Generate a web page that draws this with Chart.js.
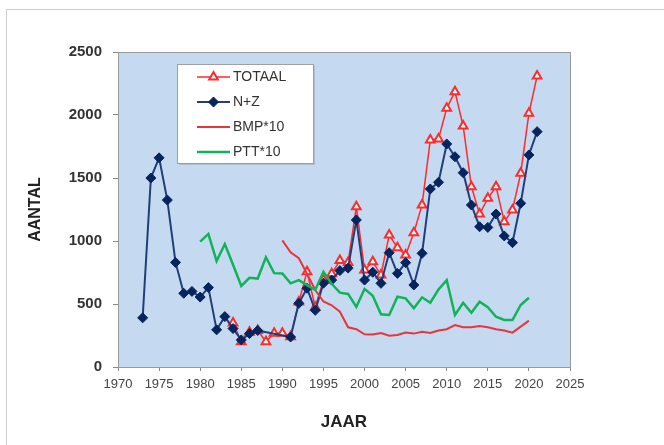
<!DOCTYPE html>
<html><head><meta charset="utf-8">
<script src="https://cdn.jsdelivr.net/npm/chart.js@4/dist/chart.umd.min.js"></script>
<style>html,body{margin:0;padding:0;background:#fff;}#wrap{width:664px;height:445px;}</style>
</head><body><div id="wrap"><canvas id="c" width="664" height="445"></canvas></div>
<script>
const years = [1973,1974,1975,1976,1977,1978,1979,1980,1981,1982,1983,1984,1985,1986,1987,1988,1989,1990,1991,1992,1993,1994,1995,1996,1997,1998,1999,2000,2001,2002,2003,2004,2005,2006,2007,2008,2009,2010,2011,2012,2013,2014,2015,2016,2017,2018,2019,2020,2021];
const totaal = [null,null,null,null,null,null,null,null,null,null,null,350,200,275,290,200,267,267,240,515,756,475,690,740,845,830,1272,770,836,730,1048,947,889,1066,1286,1802,1810,2053,2185,1913,1431,1214,1339,1431,1153,1246,1537,2013,2310];
const nz = [390,1500,1660,1325,830,585,600,555,630,295,400,305,215,265,290,null,null,null,238,505,625,450,665,690,765,785,1167,690,752,664,907,743,828,651,902,1413,1466,1770,1669,1542,1286,1113,1108,1214,1040,987,1299,1683,1868];
const bmp = [null,null,null,null,null,null,null,null,null,null,null,null,null,null,null,null,null,1005,910,863,740,611,520,490,439,315,300,260,258,270,248,254,273,265,280,270,290,300,333,315,315,325,315,300,290,273,320,368,null];
const ptt = [null,null,null,null,null,null,null,995,1056,840,976,812,643,708,702,871,745,743,664,690,650,611,756,660,590,580,477,620,566,418,413,558,545,466,553,510,615,690,413,510,431,518,474,399,373,373,492,550,null];
const xTicks = [1970,1975,1980,1985,1990,1995,2000,2005,2010,2015,2020,2025];
const yTicks = [0,500,1000,1500,2000,2500];
const seriesLabels = ['TOTAAL','N+Z','BMP*10','PTT*10'];
const xTitle = 'JAAR';
const yTitle = 'AANTAL';

const toXY = vals => years.map((x,i)=>({x:x, y:vals[i]}));
const FONT = "'Liberation Sans', Arial, sans-serif";

const bgPlugin = {
  id:'bg',
  beforeDraw(chart){
    const ctx = chart.ctx, a = chart.chartArea;
    ctx.save();
    ctx.fillStyle = '#ffffff';
    ctx.fillRect(0,0,chart.width,chart.height);
    ctx.strokeStyle = '#d0d0d0';
    ctx.lineWidth = 1;
    ctx.beginPath();
    ctx.moveTo(6.5, chart.height);
    ctx.lineTo(6.5, 9.5);
    ctx.lineTo(chart.width, 9.5);
    ctx.stroke();
    ctx.fillStyle = '#c5daf1';
    ctx.fillRect(a.left, a.top, a.right-a.left, a.bottom-a.top);
    ctx.restore();
  },
  afterDraw(chart){
    const ctx = chart.ctx, a = chart.chartArea;
    ctx.save();
    ctx.strokeStyle = '#9a9a9a';
    ctx.lineWidth = 1;
    ctx.strokeRect(a.left+0.5, a.top+0.5, a.right-a.left, a.bottom-a.top);
    // legend
    const bx = 177, by = 64, bw = 136, bh = 99;
    ctx.fillStyle = 'rgba(0,0,0,0.12)';
    ctx.fillRect(bx+2, by+2, bw, bh);
    ctx.fillStyle = '#ffffff';
    ctx.fillRect(bx, by, bw, bh);
    ctx.strokeStyle = '#a0a0a0';
    ctx.strokeRect(bx+0.5, by+0.5, bw, bh);
    chart.data.datasets.forEach((ds,i)=>{
      const y = by + 13 + i*25;
      ctx.strokeStyle = ds.borderColor;
      ctx.lineWidth = ds.borderWidth;
      ctx.beginPath(); ctx.moveTo(197,y); ctx.lineTo(230,y); ctx.stroke();
      if (ds.pointRadius > 0){
        ctx.fillStyle = ds.pointBackgroundColor;
        ctx.strokeStyle = ds.pointBorderColor;
        ctx.lineWidth = ds.pointBorderWidth;
        Chart.helpers.drawPoint(ctx, {pointStyle: ds.pointStyle, radius: ds.pointRadius, rotation:0, borderWidth: ds.pointBorderWidth}, 213.5, y);
      }
      ctx.fillStyle = '#333333';
      ctx.font = '14px ' + FONT;
      ctx.textBaseline = 'middle';
      ctx.textAlign = 'left';
      ctx.fillText(ds.label, 233, y);
    });
    ctx.restore();
  }
};

new Chart(document.getElementById('c'), {
  type:'line',
  data:{
    datasets:[
      {label:seriesLabels[0], data:toXY(totaal), borderColor:'#ff2a2a', borderWidth:1.5, pointStyle:'triangle', pointRadius:5, pointBorderWidth:2, pointBackgroundColor:'#ffffff', pointBorderColor:'#ff2a2a', order:4},
      {label:seriesLabels[1], data:toXY(nz), borderColor:'#1f3f7a', borderWidth:2, pointStyle:'rectRot', pointRadius:5, pointBorderWidth:1, pointBackgroundColor:'#06245e', pointBorderColor:'#06245e', spanGaps:true, order:3},
      {label:seriesLabels[2], data:toXY(bmp), borderColor:'#e8353a', borderWidth:2, pointRadius:0, order:2},
      {label:seriesLabels[3], data:toXY(ptt), borderColor:'#11b359', borderWidth:2.5, pointRadius:0, order:1}
    ]
  },
  options:{
    responsive:false,
    animation:false,
    devicePixelRatio:1,
    layout:{padding:{left:0,right:94,top:52,bottom:0}},
    elements:{line:{tension:0}},
    plugins:{legend:{display:false}, tooltip:{enabled:false}},
    scales:{
      x:{
        type:'linear', min:1970, max:2025,
        afterBuildTicks: s => { s.ticks = xTicks.map(v=>({value:v})); },
        afterFit: s => { s.height = 78; },
        ticks:{callback:v=>String(v), font:{family:FONT,size:13}, color:'#444', padding:6, maxRotation:0, autoSkip:false},
        grid:{drawOnChartArea:false, tickLength:4, color:'#888'},
        border:{color:'#888'},
        title:{display:true, text:xTitle, font:{family:FONT,size:17,weight:'bold'}, color:'#222', padding:{top:0,bottom:12}}
      },
      y:{
        min:0, max:2500,
        afterBuildTicks: s => { s.ticks = yTicks.map(v=>({value:v})); },
        afterFit: s => { s.width = 118; },
        ticks:{callback:v=>String(v), font:{family:FONT,size:15,weight:'bold'}, color:'#333', padding:11},
        grid:{drawOnChartArea:false, tickLength:5, color:'#888'},
        border:{color:'#888'},
        title:{display:true, text:yTitle, font:{family:FONT,size:16,weight:'bold'}, color:'#222', padding:{top:26,bottom:0}}
      }
    }
  },
  plugins:[bgPlugin]
});
</script></body></html>
